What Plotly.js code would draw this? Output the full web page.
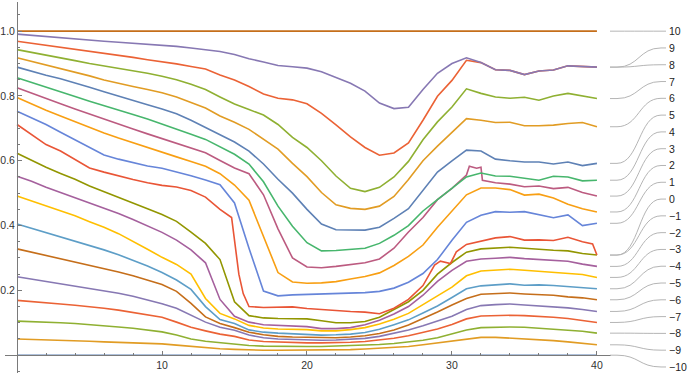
<!DOCTYPE html>
<html><head><meta charset="utf-8">
<script src="https://cdn.plot.ly/plotly-3.0.1.min.js"></script>
<style>html,body{margin:0;padding:0;background:#fff;overflow:hidden}#chart{width:700px;height:376px}</style>
</head><body><div id="chart"></div>
<script>
// ---------- data ----------
const X = [0,1,2,3,4,5,6,7,8,9,10,11,12,13,14,15,16,17,18,19,20,21,22,23,24,25,26,27,28,29,30,31,32,33,34,35,36,37,38,39,40];
const xRed0 = [0,1,2,3,4,5,6,7,8,9,10,11,12,13,14,14.8,15.3,15.6,16,17,18,19,20,21,22,23,24,25,26,27,28,28.8,29.2,29.9,30.3,31,32,33,34,35,36,37,38,39,39.7,40];
const xPink = [0,1,2,3,4,5,6,7,8,9,10,11,12,13,14,15,16,17,18,19,20,21,22,23,24,25,26,27,28,29,30,31,31.2,31.7,32,32.1,33,34,35,36,37,38,39,40];

const labels = [-10,-9,-8,-7,-6,-5,-4,-3,-2,-1,0,1,2,3,4,5,6,7,8,9,10];

const s_m10 = [0,0,0,0,0,0,0,0,0,0,0, 0,0,0,0,0,0,0,0,0,0, 0,0,0,0,0,0,0,0,0,0, 0,0,0,0,0,0,0,0,0,0];
const s_m9 = [.050,.049,.048,.047,.045,.043,.041,.040,.039,.037,.035, .031,.027,.023,.020,.018,.016,.015,.015,.015,.015, .015,.016,.017,.019,.021,.024,.027,.032,.038,.045, .051,.055,.055,.053,.051,.048,.045,.041,.037,.032];
const s_m8 = [.105,.104,.102,.100,.098,.095,.091,.087,.083,.078,.072, .062,.050,.043,.038,.034,.030,.028,.027,.027,.027, .027,.028,.029,.031,.033,.036,.040,.046,.054,.065, .078,.085,.087,.087,.086,.083,.081,.079,.074,.068];
const s_m7 = [.169,.166,.162,.158,.154,.150,.145,.139,.132,.125,.117, .102,.086,.075,.065,.058,.047,.042,.040,.039,.038, .038,.038,.040,.042,.046,.052,.060,.070,.081,.095, .112,.121,.123,.123,.122,.120,.117,.113,.107,.101];
const s_m6 = [.242,.235,.228,.221,.214,.207,.200,.191,.182,.171,.159, .145,.124,.102,.086,.077,.062,.054,.050,.048,.047, .046,.047,.049,.052,.058,.067,.078,.091,.106,.120, .141,.153,.156,.158,.155,.152,.150,.146,.141,.135];
const s_m5 = [.328,.318,.309,.299,.289,.279,.268,.257,.245,.232,.218, .197,.160,.118,.098,.085,.071,.063,.058,.056,.055, .053,.054,.056,.060,.067,.078,.093,.112,.133,.155, .175,.188,.191,.192,.189,.187,.185,.180,.177,.171];
const s_m4 = [.405,.392,.379,.366,.352,.338,.325,.310,.293,.275,.255, .232,.203,.150,.110,.098,.078,.071,.068,.066,.064, .062,.063,.065,.070,.080,.094,.109,.130,.152,.178, .205,.214,.217,.220,.216,.217,.215,.212,.209,.205];
const s_m3 = [.491,.476,.461,.446,.430,.412,.395,.375,.352,.327,.302, .280,.250,.175,.129,.112,.092,.084,.081,.081,.079, .075,.075,.079,.085,.096,.111,.129,.155,.183,.210, .245,.260,.263,.265,.262,.259,.257,.253,.249,.240];
const s_m2 = [.552,.537,.518,.502,.487,.471,.455,.437,.419,.400,.379, .355,.325,.285,.172,.120,.102,.094,.092,.092,.088, .082,.082,.085,.094,.108,.127,.150,.185,.228,.262, .290,.297,.299,.302,.298,.296,.293,.290,.281,.274];
const s_m1 = [.623,.601,.580,.561,.543,.522,.505,.488,.470,.452,.434, .413,.380,.345,.295,.165,.122,.115,.113,.113,.112, .106,.100,.100,.104,.117,.140,.165,.200,.250,.286, .318,.328,.331,.333,.330,.326,.324,.322,.314,.309];
const s_0 = [.712,.680,.650,.630,.604,.578,.565,.553,.542,.532,.524, .519,.508,.488,.450,.425,.250,.190,.150,.147,.149,.149,.144, .140,.138,.135,.133,.128,.145,.172,.215, .278,.290,.283,.319, .342,.352,.362,.366,.355,.356,.354,.364,.350,.343,.309];
const s_1 = [.753,.732,.712,.688,.664,.640,.618,.605,.594,.584,.577, .566,.554,.541,.526,.470,.330,.198,.183,.186,.187, .188,.190,.191,.193,.197,.207,.225,.252,.295,.355, .410,.432,.443,.441,.443,.434,.424,.433,.400,.407];
const s_2 = [.795,.775,.756,.738,.720,.704,.686,.670,.655,.640,.626, .612,.598,.583,.560,.525,.478,.367,.255,.226,.222, .223,.227,.235,.243,.254,.277,.305,.340,.395,.445, .495,.516,.516,.511,.494,.497,.485,.466,.452,.442];
const s_3 = [.825,.808,.792,.776,.760,.744,.730,.714,.698,.683,.668, .655,.640,.625,.601,.578,.560,.495,.390,.300,.272, .270,.274,.279,.285,.297,.330,.380,.425,.480,.515,.556, .583,.577,.580,.540, .532,.528,.520,.522,.514,.518,.502,.491];
const s_4 = [.856,.841,.826,.812,.798,.784,.771,.757,.743,.729,.714, .698,.682,.666,.643,.620,.590,.535,.460,.398,.347, .322,.323,.326,.330,.345,.370,.400,.445,.480,.515, .550,.562,.553,.552,.545,.540,.552,.550,.538,.540];
const s_5 = [.889,.876,.864,.853,.841,.827,.813,.799,.786,.773,.760, .745,.725,.703,.680,.658,.630,.590,.543,.500,.450, .405,.387,.386,.386,.395,.422,.452,.510,.565,.600, .633,.630,.605,.600,.596,.596,.590,.596,.585,.592];
const s_6 = [.918,.907,.896,.886,.875,.862,.849,.838,.829,.820,.810, .797,.781,.763,.738,.719,.697,.666,.636,.592,.551, .502,.464,.453,.450,.460,.490,.542,.600,.645,.688, .730,.725,.718,.719,.708,.708,.710,.715,.718,.705];
const s_7 = [.943,.935,.926,.918,.909,.900,.893,.886,.878,.870,.861, .850,.836,.820,.797,.775,.758,.741,.712,.672,.641, .600,.553,.515,.505,.518,.550,.598,.665,.720,.766, .822,.808,.797,.793,.796,.787,.800,.808,.801,.792];
const s_8 = [.969,.963,.957,.951,.945,.939,.933,.926,.919,.912,.906, .899,.891,.883,.865,.849,.829,.806,.793,.788,.776, .746,.711,.674,.641,.617,.624,.655,.725,.799,.848, .910,.903,.881,.879,.866,.877,.880,.893,.891,.889];
const s_9 = [.991,.987,.983,.979,.975,.972,.969,.966,.963,.960,.957, .953,.948,.943,.937,.928,.915,.905,.894,.890,.886, .875,.857,.839,.815,.778,.761,.765,.820,.870,.900, .918,.903,.881,.879,.866,.877,.880,.893,.891,.889];
const s_10 = [1,1,1,1,1,1,1,1,1,1,1, 1,1,1,1,1,1,1,1,1,1, 1,1,1,1,1,1,1,1,1,1, 1,1,1,1,1,1,1,1,1,1];

const xTicks = [10,20,30,40];
const yTicks = [0.2,0.4,0.6,0.8,1.0];
const yTickText = ['0.2','0.4','0.6','0.8','1.0'];

// ---------- styling ----------
const seriesY = [s_m10,s_m9,s_m8,s_m7,s_m6,s_m5,s_m4,s_m3,s_m2,s_m1,s_0,s_1,s_2,s_3,s_4,s_5,s_6,s_7,s_8,s_9,s_10];
const seriesX = seriesY.map((s,i)=> i===10 ? xRed0 : (i===13 ? xPink : X));
const colors = ['#5E81B5','#E19C24','#8FB032','#EB6235','#8778B3','#C56E1A','#5D9EC7','#FFBF00','#A5609D','#929600',
                '#E95536','#6685D9','#F89F13','#BC5B80','#47B66D','#5E81B5','#E19C24','#8FB032','#EB6235','#8778B3','#C56E1A'];

const W=700,H=376,ML=5,MR=89,MT=2,MB=3;
const xMin=-0.83,xMax=40.97,yMin=-0.055,yMax=1.09;
const pw=W-ML-MR;
const pxToPaperX = px => (px-ML)/pw;
const valToPaperY = v => (v-yMin)/(yMax-yMin);

const traces = seriesY.map((ys,i)=>({
  type:'scatter', mode:'lines', x:seriesX[i], y:ys,
  line:{color:colors[i], width:1.6}, hoverinfo:'skip'
}));

const shapes=[], annotations=[];
const FONT='Liberation Sans, Arial, sans-serif';
labels.forEach((k,i)=>{
  const ys=seriesY[i];
  const y0=valToPaperY(ys[ys.length-1]);
  const yl=valToPaperY(1.0-(10-k)*0.05182);
  const x0=pxToPaperX(610), x1=pxToPaperX(617), x2=pxToPaperX(661), x3=pxToPaperX(666);
  const xm=(x1+x2)/2;
  shapes.push({type:'path', xref:'paper', yref:'paper',
    path:`M ${x0},${y0} L ${x1},${y0} C ${xm},${y0} ${xm},${yl} ${x2},${yl} L ${x3},${yl}`,
    line:{color:'#b5b5b5', width:1}});
  annotations.push({xref:'paper', yref:'paper', x:pxToPaperX(667), y:yl, xanchor:'left', yanchor:'middle',
    text:(k<0?'\u2212'+(-k):String(k)), showarrow:false, font:{family:FONT,size:10.5,color:'#222'}});
});

const axisCommon = {showgrid:false, zeroline:false, showline:true, linecolor:'#7a7a7a', linewidth:1,
  ticks:'inside', ticklen:4, tickwidth:1, tickcolor:'#7a7a7a',
  tickfont:{family:FONT,size:10.5,color:'#333'}, fixedrange:true};

const layout = {
  width:W, height:H, margin:{l:ML,r:MR,t:MT,b:MB,pad:0},
  paper_bgcolor:'#fff', plot_bgcolor:'#fff', showlegend:false,
  xaxis:Object.assign({}, axisCommon, {range:[xMin,xMax], anchor:'free', position:valToPaperY(0),
    tickmode:'array', tickvals:xTicks, ticktext:xTicks.map(String),
    minor:{tickmode:'linear', tick0:0, dtick:2, ticks:'inside', ticklen:2, tickcolor:'#7a7a7a', showgrid:false}}),
  yaxis:Object.assign({}, axisCommon, {range:[yMin,yMax], anchor:'free', position:(0-xMin)/(xMax-xMin),
    tickmode:'array', tickvals:yTicks, ticktext:yTickText,
    minor:{tickmode:'linear', tick0:0, dtick:0.05, ticks:'inside', ticklen:2, tickcolor:'#7a7a7a', showgrid:false}}),
  shapes:shapes, annotations:annotations
};

Plotly.newPlot('chart', traces, layout, {displayModeBar:false, staticPlot:true});
</script>
</body></html>
